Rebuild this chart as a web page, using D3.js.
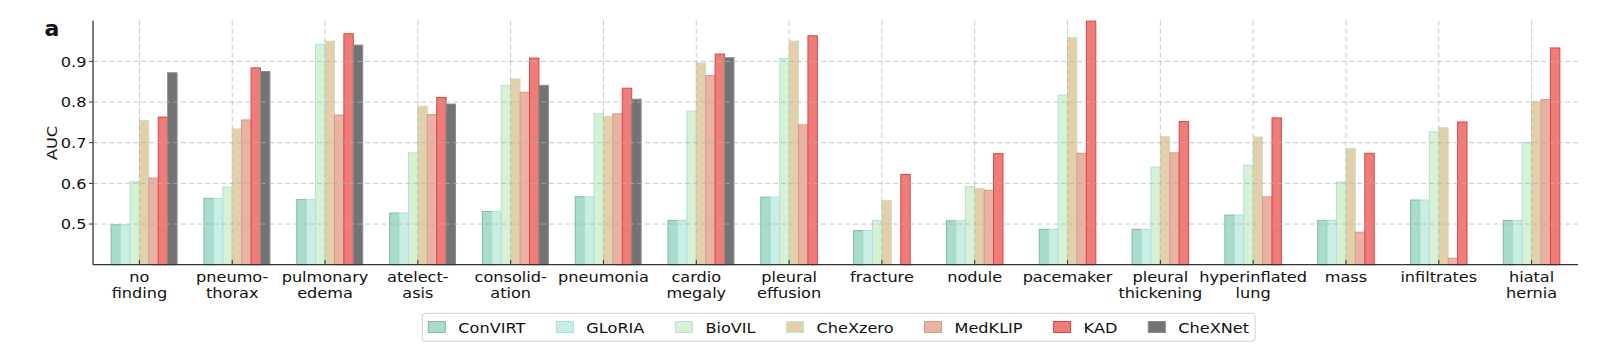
<!DOCTYPE html>
<html>
<head>
<meta charset="utf-8">
<script src="https://cdn.jsdelivr.net/npm/d3@7"></script>
<style>
  body { margin: 0; background: #fff; }
  text { font-family: "DejaVu Sans", sans-serif; fill: #111; }
</style>
</head>
<body>
<div id="chart"></div>
<script>
// data
const categories = ["no\nfinding", "pneumo-\nthorax", "pulmonary\nedema", "atelect-\nasis",
  "consolid-\nation", "pneumonia", "cardio\nmegaly", "pleural\neffusion", "fracture",
  "nodule", "pacemaker", "pleural\nthickening", "hyperinflated\nlung", "mass",
  "infiltrates", "hiatal\nhernia"];

const methods = ["ConVIRT", "GLoRIA", "BioVIL", "CheXzero", "MedKLIP", "KAD", "CheXNet"];

const convirt  = [0.498, 0.563, 0.560, 0.527, 0.531, 0.567, 0.509, 0.566, 0.484, 0.508, 0.487, 0.487, 0.522, 0.509, 0.559, 0.509];
const gloria   = [0.498, 0.563, 0.560, 0.527, 0.531, 0.567, 0.509, 0.566, 0.484, 0.508, 0.487, 0.487, 0.522, 0.509, 0.559, 0.509];
const biovil   = [0.604, 0.591, 0.942, 0.675, 0.841, 0.771, 0.778, 0.907, 0.509, 0.592, 0.817, 0.640, 0.645, 0.603, 0.727, 0.700];
const chexzero = [0.755, 0.734, 0.950, 0.790, 0.857, 0.765, 0.896, 0.950, 0.558, 0.588, 0.959, 0.715, 0.714, 0.686, 0.737, 0.802];
const medklip  = [0.613, 0.756, 0.768, 0.769, 0.824, 0.771, 0.865, 0.744, null, 0.583, 0.674, 0.675, 0.567, 0.480, 0.416, 0.806];
const kad      = [0.763, 0.884, 0.968, 0.811, 0.908, 0.834, 0.918, 0.963, 0.622, 0.673, 0.999, 0.752, 0.761, 0.674, 0.751, 0.933];
const chexnet  = [0.872, 0.875, 0.940, 0.795, 0.841, 0.807, 0.909, null, null, null, null, null, null, null, null, null];

const yTicks = [0.5, 0.6, 0.7, 0.8, 0.9];

const seriesValues = [convirt, gloria, biovil, chexzero, medklip, kad, chexnet];
const fills   = ["#a9dcca", "#c9eee6", "#d6f2d2", "#e4cfab", "#e9b2a2", "#f07c78", "#737373"];
const strokes = ["#80b9a5", "#a8e2d9", "#b5dde4", "#c6e4c0", "#d49a8a", "#d8464b", "#8c8c8c"];

//layout
const width = 1608, height = 354,
  margin = { top: 20.7, bottom: 89.3, left: 93, right: 30 };
const sx = 1.09; // glyphs in the figure are a bit wider than tall
const fs = 14.8;

const svg = d3.select("#chart").append("svg")
  .attr("width", width)
  .attr("height", height);

const x = d3.scaleBand()
  .domain(categories)
  .range([margin.left, width - margin.right])
  .padding(0);

const y = d3.scaleLinear()
  .domain([0.4, 1.0])
  .range([height - margin.bottom, margin.top]);

const barW = x.bandwidth() * 0.1015;

function stretchedText(sel, tx, ty, anchor) {
  return sel.attr("text-anchor", anchor)
    .attr("font-size", fs)
    .attr("transform", `translate(${tx},${ty}) scale(${sx},1)`);
}

// bars
methods.forEach((m, i) => {
  const rows = categories.map((c, j) => ({ c, v: seriesValues[i][j] })).filter(d => d.v != null);
  svg.append("g").selectAll("rect")
    .data(rows)
    .join("rect")
    .attr("x", d => x(d.c) + x.bandwidth() / 2 + (i - 3) * barW)
    .attr("y", d => y(d.v))
    .attr("width", barW)
    .attr("height", d => y(0.4) - y(d.v))
    .attr("fill", fills[i])
    .attr("stroke", strokes[i])
    .attr("stroke-width", 1);
});

// grid on top, faint like the original
const grid = svg.append("g")
  .attr("stroke", "#b0b0b0")
  .attr("stroke-opacity", 0.7)
  .attr("stroke-dasharray", "5,3")
  .attr("stroke-width", 1);
grid.selectAll(".hg").data(yTicks).join("line")
  .attr("x1", margin.left).attr("x2", width - margin.right)
  .attr("y1", d => y(d)).attr("y2", d => y(d));
grid.selectAll(".vg").data(categories).join("line")
  .attr("x1", d => x(d) + x.bandwidth() / 2).attr("x2", d => x(d) + x.bandwidth() / 2)
  .attr("y1", y(1.0)).attr("y2", y(0.4));

// axes
svg.append("line")
  .attr("x1", margin.left).attr("x2", margin.left)
  .attr("y1", y(1.0)).attr("y2", y(0.4))
  .attr("stroke", "#333").attr("stroke-width", 1.3);
svg.append("line")
  .attr("x1", margin.left).attr("x2", width - margin.right)
  .attr("y1", y(0.4)).attr("y2", y(0.4))
  .attr("stroke", "#333").attr("stroke-width", 1.3);

// y ticks
yTicks.forEach(t => {
  svg.append("line")
    .attr("x1", margin.left - 4).attr("x2", margin.left)
    .attr("y1", y(t)).attr("y2", y(t))
    .attr("stroke", "#333");
  stretchedText(svg.append("text"), margin.left - 6.5, y(t) + 5.3, "end")
    .text(t.toFixed(1));
});

// x ticks (inward) and labels
categories.forEach(c => {
  const cx = x(c) + x.bandwidth() / 2;
  svg.append("line")
    .attr("x1", cx).attr("x2", cx)
    .attr("y1", y(0.4)).attr("y2", y(0.4) - 5)
    .attr("stroke", "#333");
  c.split("\n").forEach((line, k) => {
    stretchedText(svg.append("text"), cx, 282 + k * 15.5, "middle")
      .text(line);
  });
});

// y label
svg.append("text")
  .attr("text-anchor", "middle")
  .attr("font-size", fs)
  .attr("transform", `translate(56.5,143) rotate(-90) scale(${sx},1)`)
  .text("AUC");

// panel letter
svg.append("text")
  .attr("x", 44.5).attr("y", 35.5)
  .attr("font-size", 22)
  .attr("font-weight", "bold")
  .text("a");

// legend
const legend = svg.append("g");
const box = legend.append("rect")
  .attr("fill", "#fff")
  .attr("stroke", "#d0d0d0")
  .attr("rx", 3);
let lx = 0;
const entries = [];
methods.forEach((m, i) => {
  const g = legend.append("g").attr("data-x", lx);
  g.append("rect")
    .attr("x", 0).attr("y", 321.5)
    .attr("width", 17).attr("height", 11)
    .attr("fill", fills[i]).attr("stroke", strokes[i]);
  const t = stretchedText(g.append("text"), 30, 332.5, "start")
    .text(m);
  const tw = t.node().getComputedTextLength() * sx;
  lx += 30 + tw + 31;
  entries.push(g);
});
const legW = lx - 31;
const legLeft = 838.7 - (legW + 12) / 2;
entries.forEach(g => {
  g.attr("transform", `translate(${+g.attr("data-x") + legLeft + 6},0)`);
});
box.attr("x", legLeft).attr("y", 313.3)
  .attr("width", legW + 12).attr("height", 28);
</script>
</body>
</html>
